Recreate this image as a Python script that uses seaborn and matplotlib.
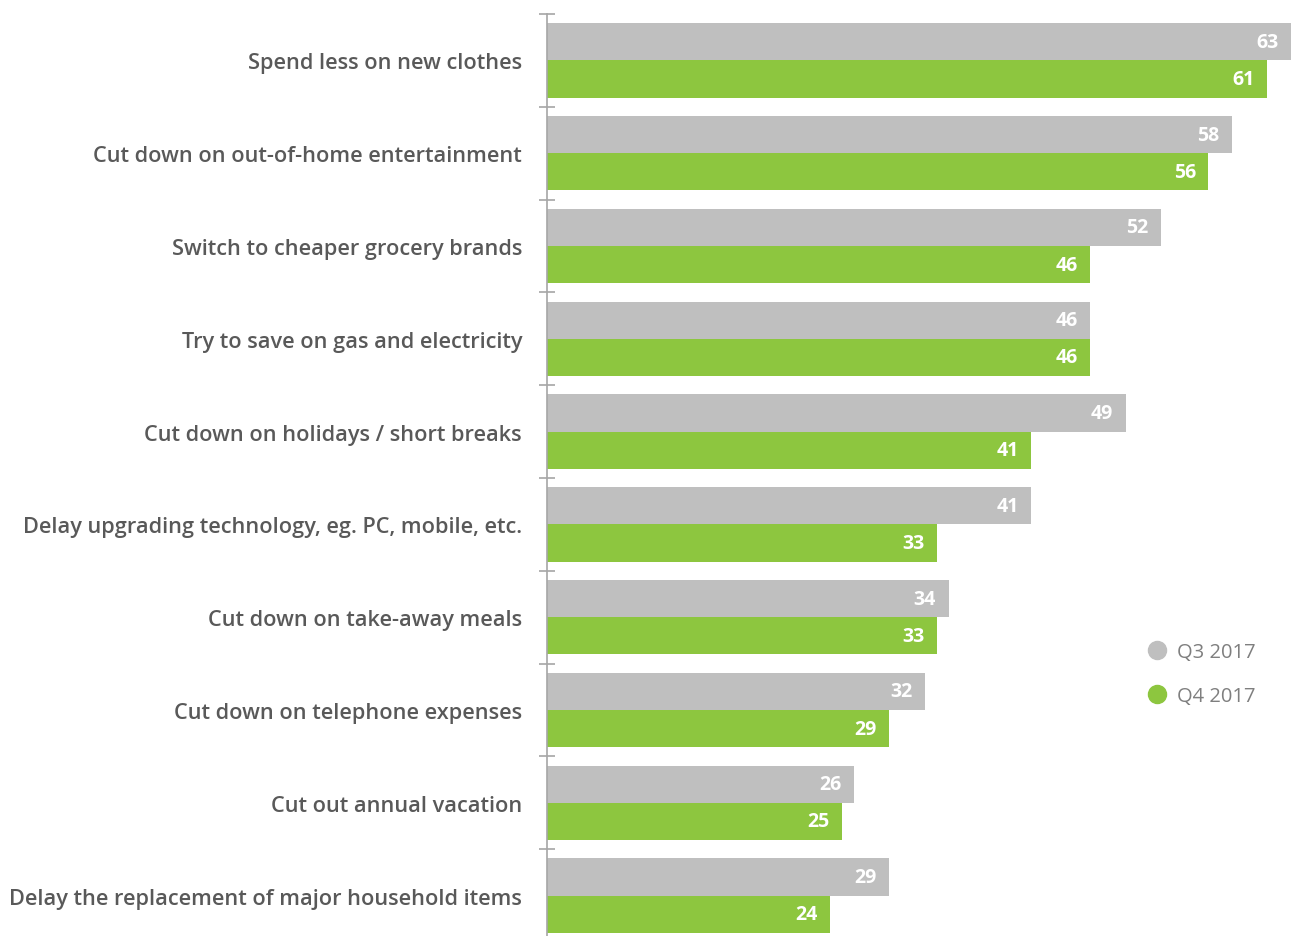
import pandas as pd
import matplotlib.pyplot as plt
import matplotlib.ticker as mticker
from matplotlib.lines import Line2D
import seaborn as sns

categories = [
    "Spend less on new clothes",
    "Cut down on out-of-home entertainment",
    "Switch to cheaper grocery brands",
    "Try to save on gas and electricity",
    "Cut down on holidays / short breaks",
    "Delay upgrading technology, eg. PC, mobile, etc.",
    "Cut down on take-away meals",
    "Cut down on telephone expenses",
    "Cut out annual vacation",
    "Delay the replacement of major household items",
]
q3_2017 = [63, 58, 52, 46, 49, 41, 34, 32, 26, 29]
q4_2017 = [61, 56, 46, 46, 41, 33, 33, 29, 25, 24]
series = ["Q3 2017", "Q4 2017"]

colors = {"Q3 2017": "#BFBFBF", "Q4 2017": "#8DC63F"}

data = pd.DataFrame({
    "category": categories * 2,
    "value": q3_2017 + q4_2017,
    "period": [series[0]] * len(categories) + [series[1]] * len(categories),
})

sns.set_style("white")
plt.rcParams["font.family"] = ["Open Sans", "DejaVu Sans"]

fig = plt.figure(figsize=(12.91, 9.37), dpi=100)
ax = fig.add_axes([547 / 1291, -6 / 937, 744 / 1291, 928 / 937])

sns.barplot(data=data, x="value", y="category", hue="period",
            hue_order=series, order=categories, palette=colors,
            orient="h", width=0.8, saturation=1, legend=False,
            linewidth=0, ax=ax)

# value labels inside bar ends
for container in ax.containers:
    for bar in container:
        w = bar.get_width()
        ax.annotate(f"{w:.0f}", xy=(w, bar.get_y() + bar.get_height() / 2),
                    xytext=(-9, 0), textcoords="offset points",
                    ha="right", va="center", color="white",
                    fontsize=14, fontweight="bold")

ax.set_xlim(0, 63)
ax.set_ylim(len(categories) - 0.5, -0.5)
ax.set_xlabel("")
ax.set_ylabel("")
ax.set_xticks([])

for side in ["top", "right", "bottom"]:
    ax.spines[side].set_visible(False)
ax.spines["left"].set_color("#A6A6A6")
ax.spines["left"].set_linewidth(1.2)

ax.yaxis.set_minor_locator(mticker.FixedLocator(
    [i - 0.5 for i in range(len(categories) + 1)]))
ax.tick_params(axis="y", which="major", length=0, pad=18,
               labelsize=15.7, labelcolor="#595959")
for lbl in ax.get_yticklabels():
    lbl.set_fontweight("semibold")
ax.tick_params(axis="y", which="minor", length=11, direction="inout",
               color="#A6A6A6", width=1.2, left=True)

handles = [Line2D([], [], marker="o", linestyle="", markersize=13,
                  markerfacecolor=colors[s], markeredgecolor=colors[s])
           for s in series]
fig.legend(handles, series, loc="center left",
           bbox_to_anchor=(1119 / 1291, 1 - 675 / 937), frameon=False,
           fontsize=14.5, labelcolor="#7F7F7F", handletextpad=0.0,
           labelspacing=1.2)

fig.savefig("out.png", dpi=100)
